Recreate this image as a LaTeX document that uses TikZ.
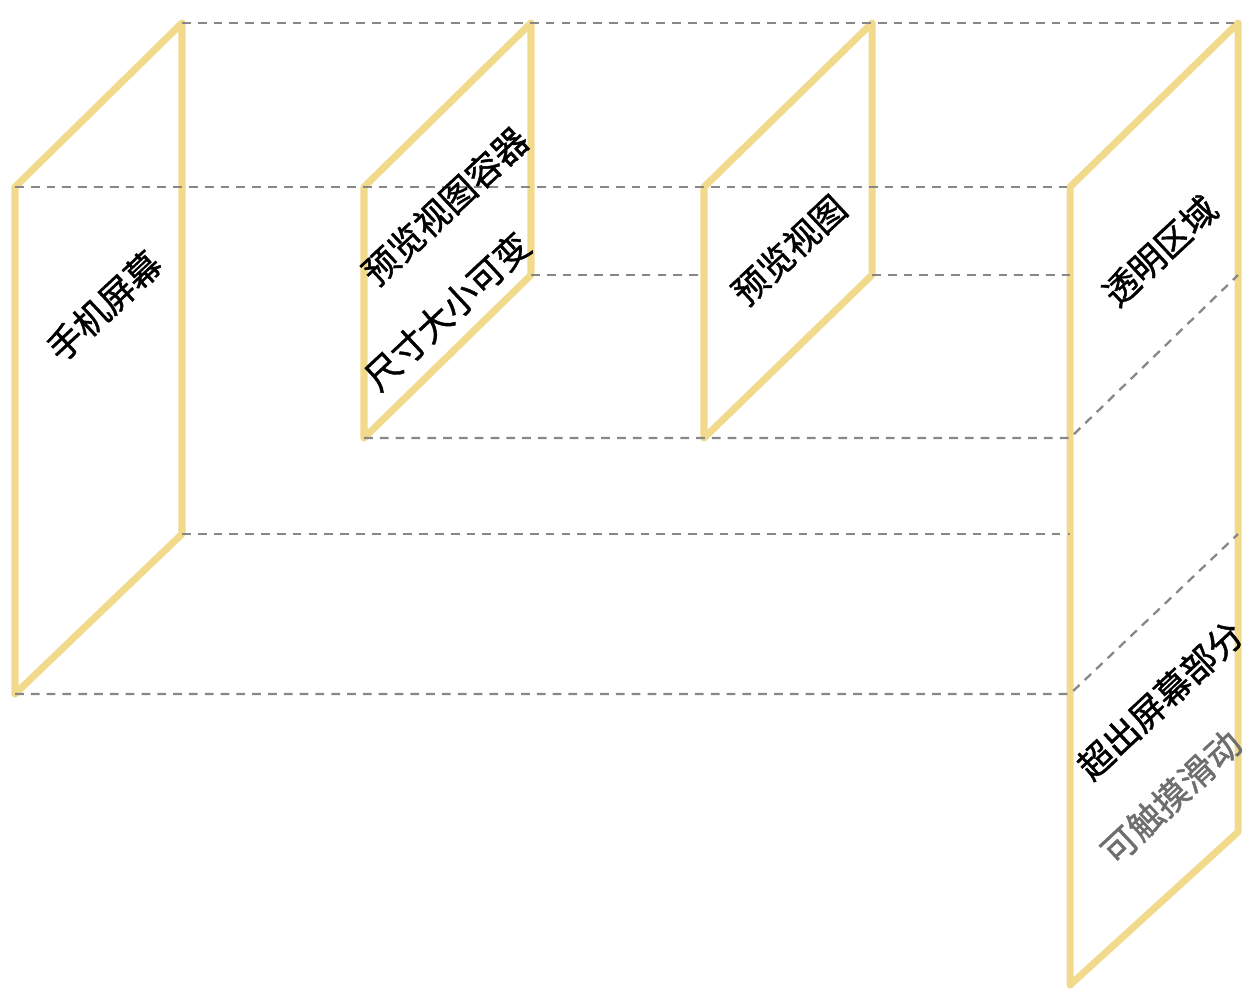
\documentclass[tikz,border=0pt]{standalone}
\usepackage{fontspec}
\setmainfont{Noto Sans CJK SC}
\newfontfamily\labelfont[BoldFont={Noto Sans CJK SC}, BoldFeatures={FakeBold=1.2}]{Noto Sans CJK SC}
\usepackage{xcolor}
\usepackage{tikz}
\usetikzlibrary{positioning,calc}

\definecolor{panelgold}{RGB}{242,218,140}
\definecolor{guidegray}{RGB}{135,135,135}
\definecolor{notegray}{RGB}{110,110,110}

\begin{document}
\begin{tikzpicture}[
    x=0.02cm, y=-0.02cm,
    panel/.style={draw=panelgold, line width=4pt, line join=round},
    guide/.style={draw=guidegray, line width=1.3pt, dash pattern=on 5pt off 4pt},
    label/.style={rotate=43, font=\fontsize{20}{25}\labelfont\bfseries, inner sep=0pt},
]
\useasboundingbox (0,0) rectangle (1256,998);

% Phone screen
\coordinate (s-tl) at (15,187);
\coordinate (s-tr) at (182,23);
\coordinate (s-br) at (182,534);
\coordinate (s-bl) at (15,694);

% Preview container
\coordinate (c-tl) at (364,187);
\coordinate (c-tr) at (531,23);
\coordinate (c-br) at (531,275);
\coordinate (c-bl) at (364,438);

% Preview view
\coordinate (v-tl) at (704,187);
\coordinate (v-tr) at (872,23);
\coordinate (v-br) at (872,275);
\coordinate (v-bl) at (704,438);

% Transparent area
\coordinate (t-tl) at (1070,187);
\coordinate (t-tr) at (1238,23);
\coordinate (t-br) at (1238,832);
\coordinate (t-bl) at (1070,985);

% Panels
\foreach \p in {s,c,v,t}
    \draw[panel] (\p-tl) -- (\p-tr) -- (\p-br) -- (\p-bl) -- cycle;

% Guide lines
\draw[guide] (s-tr) -- (t-tr);
\draw[guide] (s-tl) -- (t-tl);
\draw[guide] (c-br) -- (v-tl |- c-br);
\draw[guide] (v-br) -- (t-tl |- v-br);
\draw[guide] (c-bl) -- (t-tl |- c-bl) -- (t-tr |- c-br);
\draw[guide] (s-br) -- (t-tl |- s-br);
\draw[guide] (s-bl) -- (t-tl |- s-bl) -- (t-tr |- s-br);

% Labels
\node[label] (screen) at (104,306) {手机屏幕};
\node[label] (container) at (445,206) {预览视图容器};
\node[label] (resize) at (447,311) {尺寸大小可变};
\node[label] (view) at (789,250) {预览视图};
\node[label] (clear) at (1160,251) {透明区域};
\node[label] (overflow) at (1160,700) {超出屏幕部分};
\node[label, text=notegray] (scroll) at (1171,797) {可触摸滑动};

\end{tikzpicture}
\end{document}
